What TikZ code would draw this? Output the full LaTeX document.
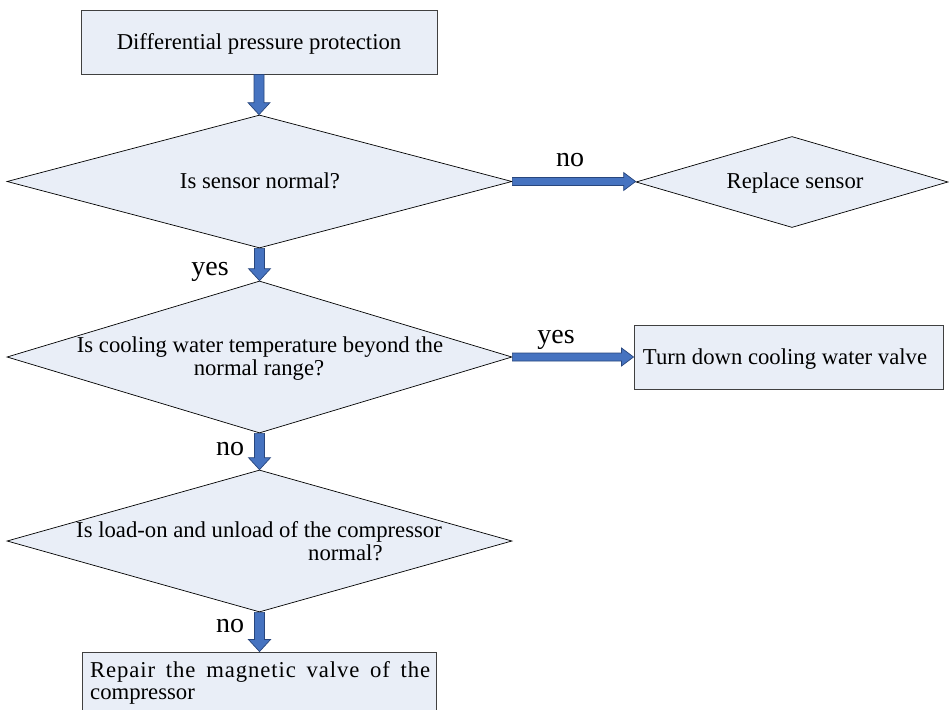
\documentclass[tikz,border=0pt]{standalone}
\usepackage{fontspec}
\setmainfont{Liberation Serif}
\usetikzlibrary{shapes.geometric,calc}
\definecolor{boxfill}{RGB}{233,238,247}
\definecolor{boxline}{RGB}{64,64,64}
\definecolor{arrfill}{RGB}{70,115,192}
\definecolor{arrline}{RGB}{40,70,125}
\tikzset{
  procbox/.style={draw=boxline,fill=boxfill,line width=0.9pt,rectangle,inner sep=0pt},
  decbox/.style={draw=black,fill=boxfill,line width=0.7pt,diamond,inner sep=0pt},
  bodytext/.style={inner sep=0pt,font=\fontsize{22.7}{23}\selectfont},
  lbltext/.style={inner sep=0pt,anchor=base,font=\fontsize{28}{30}\selectfont},
  blk/.style={draw=arrline,fill=arrfill,line width=0.7pt,line join=miter}
}
\newcommand\downblock[2]{\draw[blk] let \p1=(#1),\p2=(#2) in (\x1-5pt,\y1) -- (\x1-5pt,\y2+12pt) -- (\x1-11pt,\y2+12pt) -- (\x1,\y2) -- (\x1+11pt,\y2+12pt) -- (\x1+5pt,\y2+12pt) -- (\x1+5pt,\y1) -- cycle;}
\newcommand\rightblock[2]{\draw[blk] let \p1=(#1),\p2=(#2) in (\x1,\y1+4pt) -- (\x2-12pt,\y1+4pt) -- (\x2-12pt,\y1+9pt) -- (\x2,\y1) -- (\x2-12pt,\y1-9pt) -- (\x2-12pt,\y1-4pt) -- (\x1,\y1-4pt) -- cycle;}
\begin{document}
\begin{tikzpicture}[x=1pt,y=-1pt]
\clip (0,0) rectangle (949,709);
\fill[white] (0,0) rectangle (949,709);
% shapes
\node[procbox,minimum width=356pt,minimum height=64pt] (top) at (259,42) {};
\node[decbox,minimum width=505pt,minimum height=133pt] (d1) at (259.5,181.5) {};
\node[decbox,minimum width=312pt,minimum height=91pt] (d2) at (792,182) {};
\node[decbox,minimum width=505pt,minimum height=152pt] (d3) at (259.5,357) {};
\node[procbox,minimum width=309pt,minimum height=64pt] (tv) at (788.5,357) {};
\node[decbox,minimum width=505pt,minimum height=142pt] (d4) at (259.5,541) {};
\node[procbox,minimum width=354pt,minimum height=90pt] (rep) at (259,697) {};
% texts
\node[bodytext,anchor=base] (t1) at (259,49) {Differential pressure protection};
\node[bodytext,anchor=base] (t2) at (260,188) {Is sensor normal?};
\node[bodytext,anchor=base] (t3) at (795,188) {Replace sensor};
\node[bodytext,anchor=base] (t4a) at (260,352) {Is cooling water temperature beyond the};
\node[bodytext,anchor=base] (t4b) at (259,375) {normal range?};
\node[bodytext,anchor=base] (t5) at (785,364) {Turn down cooling water valve};
\node[bodytext,anchor=base west] (t6a) at (76,537) {Is load-on and unload of the compressor};
\node[bodytext,anchor=base west] (t6b) at (308,560) {normal?};
\node[bodytext,anchor=base west] (t7a) at (90,677) {\addfontfeature{LetterSpace=4}\makebox[340pt][s]{Repair the magnetic valve of the}};
\node[bodytext,anchor=base west] (t7b) at (90,699) {compressor};
% connectors
\downblock{top.south}{d1.north}
\rightblock{d1.east}{d2.west}
\downblock{d1.south}{d3.north}
\rightblock{d3.east}{tv.west}
\downblock{d3.south}{d4.north}
\downblock{d4.south}{rep.north}
% labels
\node[lbltext] (l1) at (570,166) {no};
\node[lbltext] (l2) at (210,275) {yes};
\node[lbltext] (l3) at (556,343) {yes};
\node[lbltext] (l4) at (230,455) {no};
\node[lbltext] (l5) at (230,632) {no};
\end{tikzpicture}
\end{document}
